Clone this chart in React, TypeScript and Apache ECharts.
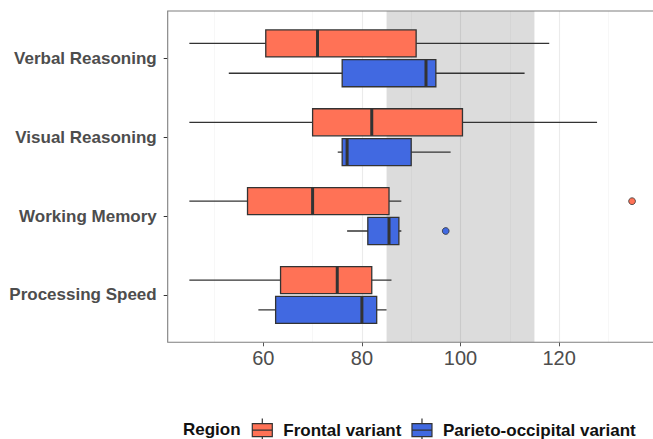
import React, { useEffect, useRef } from "react";
import * as echarts from "echarts";

const categories = ["Verbal Reasoning", "Visual Reasoning", "Working Memory", "Processing Speed"];
// [low whisker, Q1, median, Q3, high whisker]
const frontalStats = [
  [45, 60.5, 71, 91, 118],
  [45, 70, 82, 100.4, 127.7],
  [45, 56.8, 70, 85.5, 88],
  [45, 63.5, 75, 82, 86],
];
const parietoStats = [
  [53, 76, 93, 95, 113],
  [75.1, 76, 77, 90, 98],
  [77, 81.2, 85.5, 87.5, 88],
  [59, 62.5, 80, 83, 85],
];
// [category index, value]
const frontalOutliers = [[2, 134.8]];
const parietoOutliers = [[2, 97]];
const normalBand = [85, 115];
const tickValues = [60, 80, 100, 120];

const FRONTAL = "#FF7256";
const PARIETO = "#4169E1";
const DARK = "#333333";
const FONT = "'Liberation Sans', Arial, Helvetica, sans-serif";

const makeBoxRender = (sign: number, color: string) => (params: any, api: any) => {
  const cat = api.value(0);
  const band = api.size([0, 1])[1];
  const center = api.coord([api.value(3), cat]);
  const yc = center[1] + sign * band * 0.189;
  const h = band * 0.343;
  const px = (v: number) => api.coord([v, cat])[0];
  const lo = px(api.value(1));
  const q1 = px(api.value(2));
  const med = px(api.value(3));
  const q3 = px(api.value(4));
  const hi = px(api.value(5));
  return {
    type: "group",
    children: [
      { type: "line", shape: { x1: lo, y1: yc, x2: hi, y2: yc }, style: { stroke: DARK, lineWidth: 1.3 } },
      {
        type: "rect",
        shape: { x: q1, y: yc - h / 2, width: q3 - q1, height: h },
        style: { fill: color, stroke: DARK, lineWidth: 1.3 },
      },
      { type: "line", shape: { x1: med, y1: yc - h / 2, x2: med, y2: yc + h / 2 }, style: { stroke: DARK, lineWidth: 3 } },
    ],
  };
};

const makePointRender = (sign: number, color: string) => (params: any, api: any) => {
  const cat = api.value(0);
  const band = api.size([0, 1])[1];
  const c = api.coord([api.value(1), cat]);
  return {
    type: "circle",
    shape: { cx: c[0], cy: c[1] + sign * band * 0.189, r: 3.4 },
    style: { fill: color, stroke: DARK, lineWidth: 0.8 },
  };
};

export default function App() {
  const ref = useRef<HTMLDivElement>(null);
  useEffect(() => {
    document.body.style.margin = "0";
    if (!ref.current) return;
    const chart = echarts.init(ref.current, null, { renderer: "svg" });
    const gridLeft = 164.7;
    const gridWidth = 493;
    const panelTop = 11;
    const panelHeight = 331.3;
    const unit = panelHeight / 4.2;

    const option: any = {
      animation: false,
      backgroundColor: "#ffffff",
      grid: [
        { left: gridLeft, top: panelTop, width: gridWidth, height: panelHeight, outerBoundsMode: "none", containLabel: false },
        { left: gridLeft, top: panelTop + unit * 0.1, width: gridWidth, height: unit * 4, outerBoundsMode: "none", containLabel: false },
      ],
      xAxis: [
        {
          type: "value",
          gridIndex: 0,
          min: 40,
          max: 140,
          interval: 20,
          axisLine: { show: false },
          axisTick: { show: true, length: 4, lineStyle: { color: "#555", width: 1 }, customValues: tickValues },
          axisLabel: {
            show: true,
            fontSize: 20,
            color: "#4d4d4d",
            fontFamily: FONT,
            margin: 6,
            customValues: tickValues,
            formatter: (v: number) => (tickValues.includes(v) ? String(v) : ""),
          },
          splitLine: { show: true, showMinLine: false, lineStyle: { color: "#ebebeb", width: 1.1 } },
          minorTick: { show: false, splitNumber: 2 },
          minorSplitLine: { show: true, lineStyle: { color: "#f3f3f3", width: 0.7 } },
        },
        {
          type: "value",
          gridIndex: 1,
          min: 40,
          max: 140,
          show: false,
        },
      ],
      yAxis: [
        { type: "value", gridIndex: 0, min: 0, max: 1, show: false },
        {
          type: "category",
          gridIndex: 1,
          data: categories,
          inverse: true,
          offset: -3.0,
          axisLine: { show: false },
          axisTick: { show: true, alignWithLabel: true, length: 4, lineStyle: { color: DARK, width: 1 } },
          axisLabel: { fontSize: 17, fontWeight: "bold", color: "#4d4d4d", fontFamily: FONT, margin: 11 },
          splitLine: { show: false },
        },
      ],
      legend: {
        data: ["Frontal variant", "Parieto-occipital variant"],
        left: 251.7,
        top: 418,
        padding: 0,
        itemWidth: 20,
        itemHeight: 23,
        itemGap: 10,
        icon: "path://M0 5H20V18H0Z M10 0V5 M10 18V23 M0 11.5H20",
        itemStyle: { borderColor: DARK, borderWidth: 1.2 },
        textStyle: { fontSize: 17, fontWeight: "bold", color: "#111", fontFamily: FONT, padding: [0, 0, 0, 6] },
        selectedMode: false,
      },
      graphic: [
        {
          type: "text",
          left: 183,
          top: 420.5,
          style: { text: "Region", fontSize: 17, fontWeight: "bold", fill: "#111", fontFamily: FONT },
        },
        {
          type: "rect",
          z: 100,
          shape: { x: 167.7, y: panelTop, width: 520, height: panelHeight },
          style: { fill: "none", stroke: "#7f7f7f", lineWidth: 1.1 },
          silent: true,
        },
      ],
      series: [
        {
          type: "line",
          xAxisIndex: 0,
          yAxisIndex: 0,
          data: [],
          silent: true,
          markArea: {
            silent: true,
            itemStyle: { color: "rgba(0,0,0,0.137)" },
            data: [[{ xAxis: normalBand[0] }, { xAxis: normalBand[1] }]],
          },
        },
        {
          name: "Frontal variant",
          type: "custom",
          xAxisIndex: 1,
          yAxisIndex: 1,
          itemStyle: { color: FRONTAL },
          renderItem: makeBoxRender(-1, FRONTAL),
          encode: { x: [1, 2, 3, 4, 5], y: 0 },
          data: frontalStats.map((s, i) => [i, ...s]),
        },
        {
          name: "Parieto-occipital variant",
          type: "custom",
          xAxisIndex: 1,
          yAxisIndex: 1,
          itemStyle: { color: PARIETO },
          renderItem: makeBoxRender(1, PARIETO),
          encode: { x: [1, 2, 3, 4, 5], y: 0 },
          data: parietoStats.map((s, i) => [i, ...s]),
        },
        {
          name: "Frontal variant",
          type: "custom",
          xAxisIndex: 1,
          yAxisIndex: 1,
          itemStyle: { color: FRONTAL },
          renderItem: makePointRender(-1, FRONTAL),
          encode: { x: 1, y: 0 },
          data: frontalOutliers,
        },
        {
          name: "Parieto-occipital variant",
          type: "custom",
          xAxisIndex: 1,
          yAxisIndex: 1,
          itemStyle: { color: PARIETO },
          renderItem: makePointRender(1, PARIETO),
          encode: { x: 1, y: 0 },
          data: parietoOutliers,
        },
      ],
    };
    chart.setOption(option);
    return () => chart.dispose();
  }, []);
  return <div ref={ref} style={{ width: 653, height: 439 }} />;
}
